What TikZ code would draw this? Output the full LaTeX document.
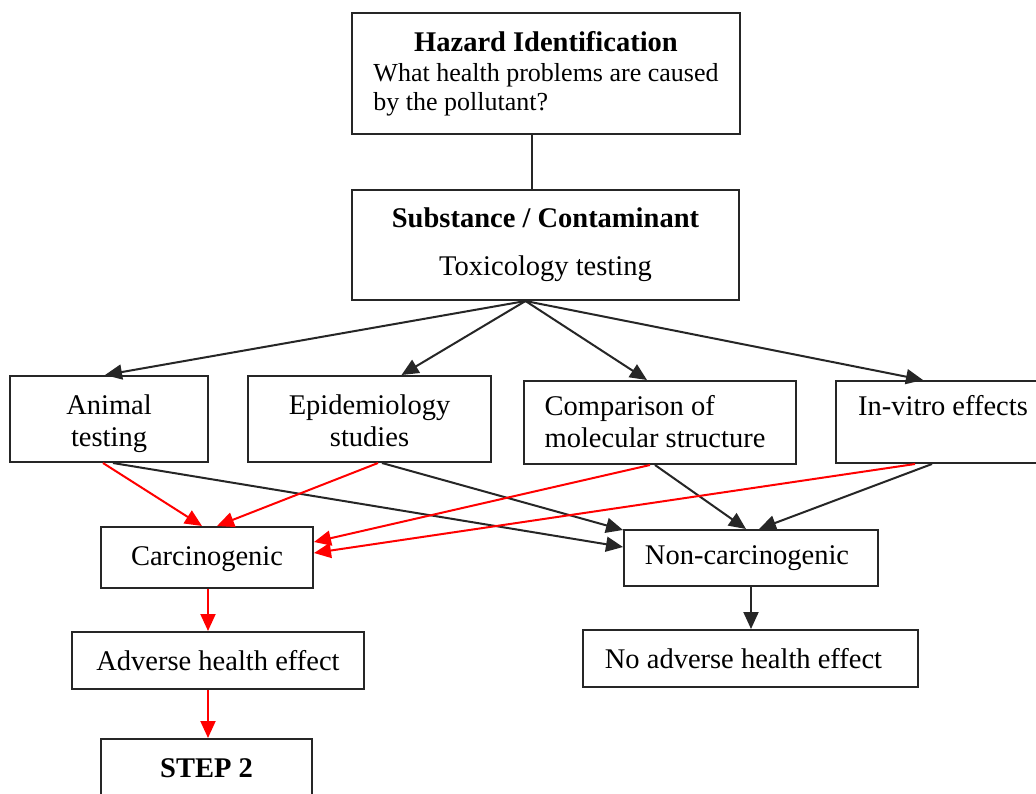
\documentclass[tikz,border=0pt]{standalone}
\usepackage{fontspec}
\setmainfont{Liberation Serif}
\usetikzlibrary{arrows.meta}
\newcommand\lowered[2]{\raisebox{-#1}[\height][\depth]{#2}}
\begin{document}
\begin{tikzpicture}[x=1pt,y=-1pt,
  box/.style={draw=black!85, line width=2pt, inner sep=0pt,
    font=\fontsize{28.5}{32}\selectfont},
  conn/.style={draw=black!85, line width=2pt},
  tip/.style={-{Triangle[length=17pt,width=15pt]}},
  arr/.style={conn, tip},
  rarr/.style={line width=2pt, draw=red, tip, red}]
\path[use as bounding box] (0,0) rectangle (1036,793);
\clip (0,0) rectangle (1036,793);
\fill[white] (0,0) rectangle (1036,793);

\node[box, minimum width=388pt, minimum height=121pt] (haz) at (546,73.5)
  {\lowered{2pt}{\fontsize{26}{29.5}\selectfont\begin{tabular}{@{}l@{}}\multicolumn{1}{@{}c@{}}{\fontsize{28.5}{29.5}\selectfont\textbf{Hazard Identification}}\\What health problems are caused\\by the pollutant?\end{tabular}}};
\node[box, minimum width=387pt, minimum height=110pt] (sub) at (545.5,245)
  {\begin{tabular}{@{}c@{}}\textbf{Substance / Contaminant}\\[16pt]Toxicology testing\end{tabular}};
\node[box, minimum width=198pt, minimum height=86pt] (ani) at (109,419)
  {\lowered{5pt}{\begin{tabular}{@{}c@{}}Animal\\testing\end{tabular}}};
\node[box, minimum width=243pt, minimum height=86pt] (epi) at (369.5,419)
  {\lowered{5pt}{\begin{tabular}{@{}c@{}}Epidemiology\\studies\end{tabular}}};
\node[box, minimum width=272pt, minimum height=83pt] (cmp) at (660,422.5)
  {\lowered{3pt}{\begin{tabular}{@{}l@{}}Comparison of\\molecular structure\end{tabular}}\hspace*{10pt}};
\node[box, minimum width=214pt, minimum height=82pt] (inv) at (943,422)
  {\lowered{3pt}{\begin{tabular}{@{}c@{}}In-vitro effects\\\phantom{I}\end{tabular}}};
\node[box, minimum width=212pt, minimum height=61pt] (car) at (207,557.5) {\lowered{2pt}{Carcinogenic}};
\node[box, minimum width=254pt, minimum height=56pt] (non) at (751,558) {Non-carcinogenic\hspace*{8pt}};
\node[box, minimum width=292pt, minimum height=57pt] (adv) at (218,660.5) {Adverse health effect};
\node[box, minimum width=335pt, minimum height=57pt] (nad) at (750.5,658.5) {No adverse health effect\hspace*{14pt}};
\node[box, minimum width=211pt, minimum height=59pt] (st2) at (206.5,768.5) {\textbf{STEP 2}};

% top connectors
\draw[conn] ([xshift=-14pt]haz.south) -- ([xshift=-13.5pt]sub.north);
\draw[arr] ([xshift=-20pt]sub.south) -- ([xshift=-4pt]ani.north);
\draw[arr] ([xshift=-20pt]sub.south) -- ([xshift=32pt]epi.north);
\draw[arr] ([xshift=-20pt]sub.south) -- ([xshift=-13pt]cmp.north);
\draw[arr] ([xshift=-20pt]sub.south) -- ([xshift=-20pt]inv.north);

% black to non-carcinogenic
\draw[arr] ([xshift=4pt]ani.south) -- ([yshift=11pt]non.west);
\draw[arr] ([xshift=12.5pt]epi.south) -- ([yshift=-1pt]non.north west);
\draw[arr] ([xshift=-5pt]cmp.south) -- ([xshift=-5pt]non.north);
\draw[arr] ([xshift=-11pt]inv.south) -- ([xshift=8pt]non.north);

% red to carcinogenic
\draw[rarr] ([xshift=-6pt]ani.south) -- ([xshift=-5pt]car.north);
\draw[rarr] ([xshift=8.5pt]epi.south) -- ([xshift=10pt]car.north);
\draw[rarr] ([xshift=-10pt]cmp.south) -- ([yshift=15.5pt]car.east);
\draw[rarr] ([xshift=-28pt]inv.south) -- ([yshift=4.5pt]car.east);

% downward
\draw[rarr] ([xshift=1pt]car.south) -- ([xshift=-10pt]adv.north);
\draw[rarr] ([xshift=-10pt]adv.south) -- ([xshift=1.5pt]st2.north);
\draw[arr] (non.south) -- ([xshift=0.5pt]nad.north);
\end{tikzpicture}
\end{document}
